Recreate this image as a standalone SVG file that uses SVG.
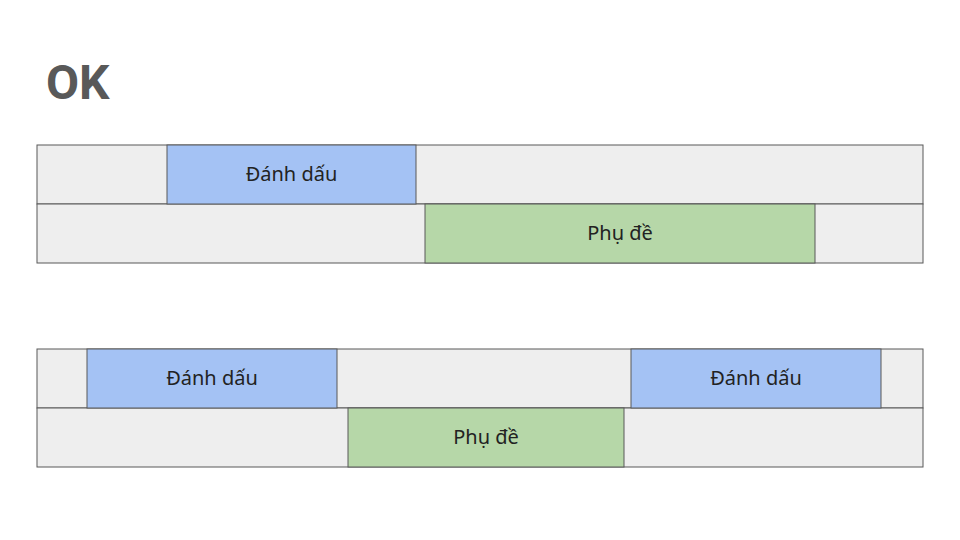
<svg xmlns="http://www.w3.org/2000/svg" width="960" height="540" viewBox="0 0 960 540">
<style>
.bg{fill:#eeeeee;stroke:#595959;stroke-width:1}
.bl{fill:#a4c2f4;stroke:#595959;stroke-width:1}
.gr{fill:#b6d7a8;stroke:#595959;stroke-width:1}
.t{font-family:"Noto Sans","Open Sans",sans-serif;font-size:20px;fill:#222;text-anchor:middle}
</style>
<rect width="960" height="540" fill="#fff"/>
<text x="46" y="99" font-family="Roboto,'Liberation Sans',sans-serif" font-weight="bold" font-size="48" fill="#595959">OK</text>
<g id="top">
<rect class="bg" x="37" y="145" width="886" height="59"/>
<rect class="bg" x="37" y="204" width="886" height="59"/>
<g id="top-mark"><rect class="bl" x="167" y="145" width="249" height="59"/><text class="t" x="291.5" y="181">Đánh dấu</text></g>
<g id="top-sub"><rect class="gr" x="425" y="204" width="390" height="59"/><text class="t" x="620" y="240">Phụ đề</text></g>
</g>
<g id="bottom">
<rect class="bg" x="37" y="349" width="886" height="59"/>
<rect class="bg" x="37" y="408" width="886" height="59"/>
<g id="bot-mark1"><rect class="bl" x="87" y="349" width="250" height="59"/><text class="t" x="212" y="385">Đánh dấu</text></g>
<g id="bot-mark2"><rect class="bl" x="631" y="349" width="250" height="59"/><text class="t" x="756" y="385">Đánh dấu</text></g>
<g id="bot-sub"><rect class="gr" x="348" y="408" width="276" height="59"/><text class="t" x="486" y="444">Phụ đề</text></g>
</g>
<g id="connectors"/>
</svg>
